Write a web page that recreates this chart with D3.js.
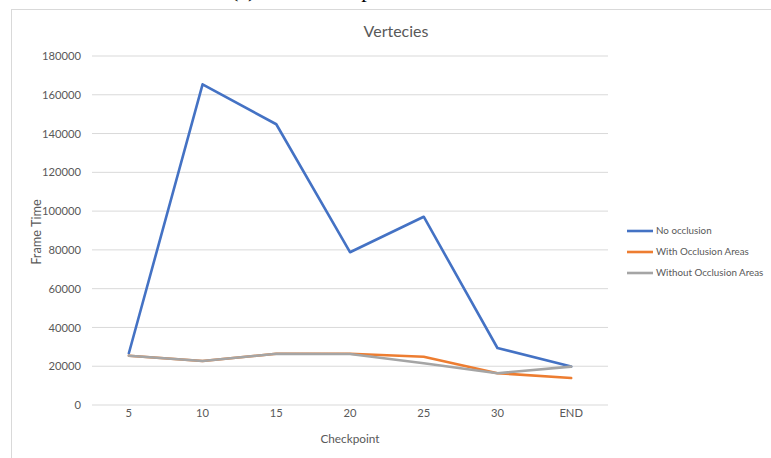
<!DOCTYPE html>
<html><head><meta charset="utf-8">
<script src="https://cdn.jsdelivr.net/npm/d3@7"></script>
<style>body{margin:0;background:#fff}svg{display:block}text{font-family:Lato,"Open Sans",sans-serif}</style>
</head><body>
<svg id="c" width="771" height="458"></svg>
<script>
const categories = ["5","10","15","20","25","30","END"];
const noOcclusion = [26700,165400,144800,78800,97100,29400,19800];
const withOcclusionAreas = [25400,22700,26400,26400,24900,16400,13900];
const withoutOcclusionAreas = [25400,22700,26400,26300,21500,16400,19800];
const seriesNames = ["No occlusion","With Occlusion Areas","Without Occlusion Areas"];
const seriesColors = ["#4472C4","#ED7D31","#A5A5A5"];
const yTicks = [0,20000,40000,60000,80000,100000,120000,140000,160000,180000];

const svg = d3.select("#c");
// partial caption cut off at top (as in the reference)
svg.append("text").attr("x",231).attr("y",-3)
  .style("font-family","'Liberation Serif',serif").attr("font-size",22).attr("fill","#000")
  .text("(a) Vertex comparison");
// frame
svg.append("line").attr("x1",11).attr("x2",771).attr("y1",9.5).attr("y2",9.5).attr("stroke","#D9D9D9");
svg.append("line").attr("x1",11.5).attr("x2",11.5).attr("y1",9).attr("y2",458).attr("stroke","#D9D9D9");

const x = d3.scaleBand().domain(categories).range([92,608]);
const y = d3.scaleLinear().domain([0,180000]).range([405,56]);

const g = svg.append("g");
yTicks.forEach(t=>{
  g.append("line").attr("x1",92).attr("x2",608).attr("y1",y(t)).attr("y2",y(t)).attr("stroke","#D9D9D9").attr("stroke-width",1);
});
const yAxis = d3.axisLeft(y).tickValues(yTicks).tickFormat(d3.format("d")).tickSize(0).tickPadding(0);
const ya = svg.append("g").attr("transform","translate(81,0)").call(yAxis);
ya.select(".domain").remove();
ya.selectAll("text").attr("fill","#595959").attr("font-size",11.2).style("font-family","Lato,sans-serif");

const xAxis = d3.axisBottom(x).tickSize(0).tickPadding(0);
const xa = svg.append("g").attr("transform","translate(0,409)").call(xAxis);
xa.select(".domain").remove();
xa.selectAll("text").attr("fill","#595959").attr("font-size",11.2).attr("dy","0.71em").style("font-family","Lato,sans-serif");

svg.append("text").attr("x",396).attr("y",37).attr("text-anchor","middle").attr("font-size",16).attr("fill","#595959").text("Vertecies");
svg.append("text").attr("transform","translate(41,232) rotate(-90)").attr("text-anchor","middle").attr("font-size",12.8).attr("fill","#595959").text("Frame Time");
svg.append("text").attr("x",350).attr("y",443).attr("text-anchor","middle").attr("font-size",11.8).attr("fill","#595959").text("Checkpoint");

const all = [noOcclusion, withOcclusionAreas, withoutOcclusionAreas];
const line = d3.line().x((d,i)=>x(categories[i])+x.bandwidth()/2).y(d=>y(d));
all.forEach((s,k)=>{
  svg.append("path").datum(s).attr("d",line).attr("fill","none").attr("stroke",seriesColors[k])
    .attr("stroke-width",2.6).attr("stroke-linejoin","round").attr("stroke-linecap","round");
});

seriesNames.forEach((n,k)=>{
  const yy = 231 + k*21;
  svg.append("line").attr("x1",627).attr("x2",653).attr("y1",yy).attr("y2",yy).attr("stroke",seriesColors[k]).attr("stroke-width",2.6);
  svg.append("text").attr("x",656).attr("y",yy).attr("dy","0.35em").attr("font-size",9.8).attr("fill","#595959").text(n);
});
</script>
</body></html>
